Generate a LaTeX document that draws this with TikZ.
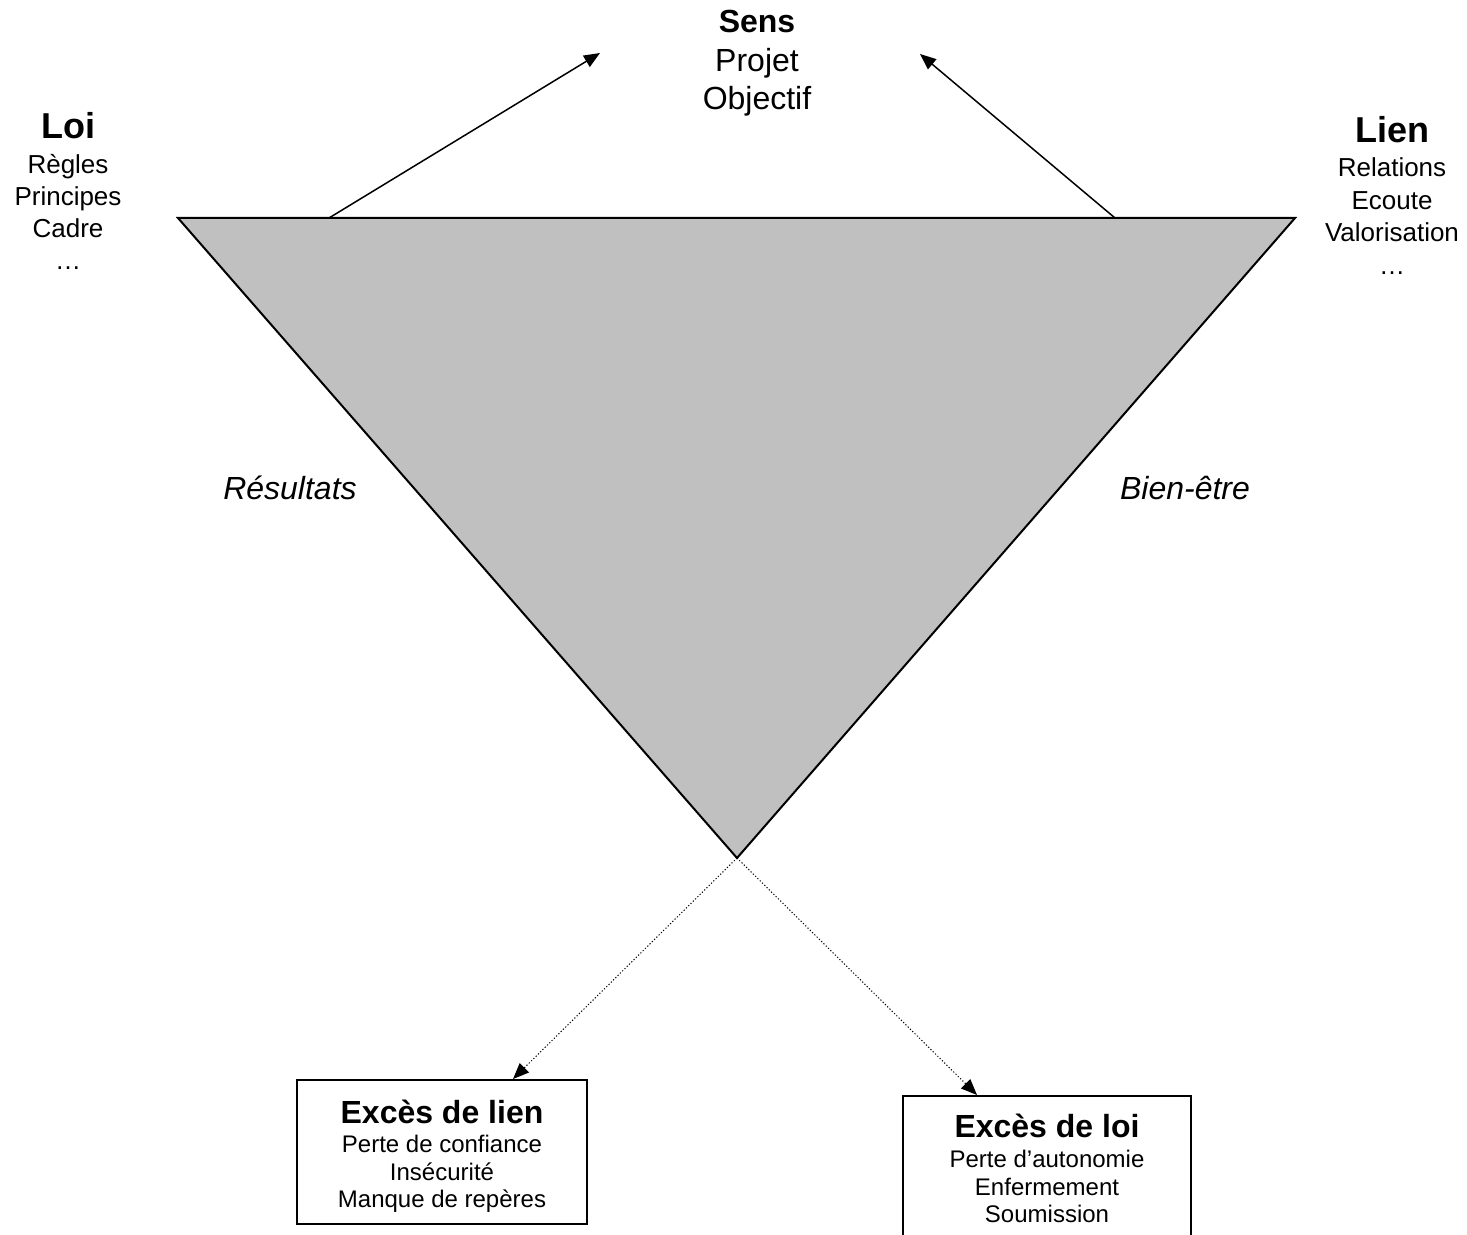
\documentclass[tikz,border=0pt]{standalone}
\usepackage{fontspec}
\setmainfont{Liberation Sans}
\usetikzlibrary{arrows.meta}
\begin{document}
\begin{tikzpicture}[x=0.5pt,y=-0.5pt,
  txt/.style={anchor=base,inner sep=0pt,outer sep=0pt},
  bigtitle/.style={txt,font=\fontsize{18}{21}\selectfont\bfseries},
  midtitle/.style={txt,font=\fontsize{16}{19}\selectfont\bfseries},
  midtext/.style={txt,font=\fontsize{16}{19}\selectfont},
  smalltext/.style={txt,font=\fontsize{13}{15}\selectfont},
  boxtext/.style={txt,font=\fontsize{12}{14}\selectfont},
  sidelabel/.style={txt,font=\fontsize{16}{19}\selectfont\itshape},
  tri/.style={draw=black,line width=1pt,fill={rgb,255:red,192;green,192;blue,192},line join=miter},
  solidarrow/.style={draw=black,line width=0.75pt,-{Triangle[length=8pt,width=6.5pt]}},
  dotarrow/.style={draw=black,line width=0.5pt,dash pattern=on 0.6pt off 1pt,-{Triangle[length=8pt,width=6.5pt]}},
  framebox/.style={draw=black,line width=1pt,fill=none,inner sep=0pt}
]
\clip (0,0) rectangle (1467,1235);
\fill[white] (0,0) rectangle (1467,1235);

% triangle
\coordinate (tl) at (178,218);
\coordinate (tr) at (1295,218);
\coordinate (apex) at (737,858);
\draw[tri] (tl) -- (tr) -- (apex) -- cycle;

% top text: Sens
\node[midtitle] (sens) at (757,33) {Sens};
\node[midtext] (projet) at (757,72) {Projet};
\node[midtext] (objectif) at (757,110) {Objectif};

% Loi column
\node[bigtitle] (loi) at (68,139) {Loi};
\node[smalltext] (regles) at (68,174) {Règles};
\node[smalltext] (principes) at (68,206) {Principes};
\node[smalltext] (cadre) at (68,238) {Cadre};
\node[smalltext] (dotsL) at (68,270) {…};

% Lien column
\node[bigtitle] (lien) at (1392,143) {Lien};
\node[smalltext] (relations) at (1392,177) {Relations};
\node[smalltext] (ecoute) at (1392,210) {Ecoute};
\node[smalltext] (valorisation) at (1392,242) {Valorisation};
\node[smalltext] (dotsR) at (1392,275) {…};

% side labels
\node[sidelabel] (resultats) at (290,499) {Résultats};
\node[sidelabel] (bienetre) at (1185,499) {Bien-être};

% arrows to Sens
\coordinate (aL) at (329,218);
\coordinate (aR) at (1115,218);
\coordinate (sL) at (600,53);
\coordinate (sR) at (920,54);
\draw[solidarrow] (aL) -- (sL);
\draw[solidarrow] (aR) -- (sR);

% boxes
\node[framebox,minimum width=145pt,minimum height=72pt] (boxL) at (442,1152) {};
\node[framebox,minimum width=144pt,minimum height=77pt] (boxR) at (1047,1173) {};

\node[midtitle] (exlien) at (442,1123) {Excès de lien};
\node[boxtext] (l1) at (442,1152) {Perte de confiance};
\node[boxtext] (l2) at (442,1180) {Insécurité};
\node[boxtext] (l3) at (442,1207) {Manque de repères};

\node[midtitle] (exloi) at (1047,1137) {Excès de loi};
\node[boxtext] (r1) at (1047,1167) {Perte d’autonomie};
\node[boxtext] (r2) at (1047,1195) {Enfermement};
\node[boxtext] (r3) at (1047,1222) {Soumission};

% dotted arrows
\draw[dotarrow] (apex) -- ([xshift=35.5pt]boxL.north);
\draw[dotarrow] (apex) -- ([xshift=-35pt]boxR.north);
\end{tikzpicture}
\end{document}
